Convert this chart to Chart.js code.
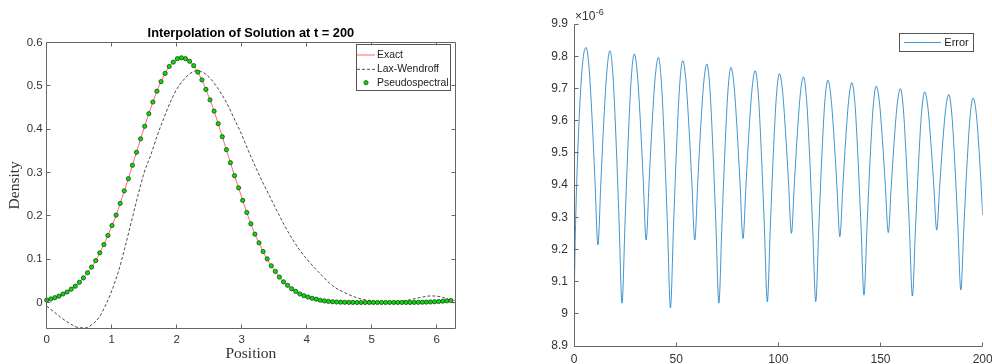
<!DOCTYPE html>
<html lang="en">
<head>
  <meta charset="UTF-8">
  <title>Interpolation of Solution at t = 200</title>
  <script src="https://cdn.jsdelivr.net/npm/chart.js"></script>
  <style>
    body { margin: 0; background: #fff; }
    #wrap { position: relative; width: 992px; height: 364px; overflow: hidden; background: #fff; }
    canvas { position: absolute; top: 0; }
    #density-chart { left: 0; }
    #error-chart { left: 510px; }
  </style>
</head>
<body>
  <div id="wrap">
    <canvas id="density-chart" width="510" height="364"></canvas>
    <canvas id="error-chart" width="482" height="364"></canvas>
  </div>

  <script>
    // ---- left panel: density at t = 200 ----
    // pseudospectral nodes (100 points on [0, 2pi))
    const nodeX = [
      0, 0.063, 0.126, 0.188, 0.251, 0.314, 0.377, 0.440, 0.503, 0.565,
      0.628, 0.691, 0.754, 0.817, 0.880, 0.942, 1.005, 1.068, 1.131, 1.194,
      1.257, 1.319, 1.382, 1.445, 1.508, 1.571, 1.634, 1.696, 1.759, 1.822,
      1.885, 1.948, 2.011, 2.073, 2.136, 2.199, 2.262, 2.325, 2.388, 2.450,
      2.513, 2.576, 2.639, 2.702, 2.765, 2.827, 2.890, 2.953, 3.016, 3.079,
      3.142, 3.204, 3.267, 3.330, 3.393, 3.456, 3.519, 3.581, 3.644, 3.707,
      3.770, 3.833, 3.896, 3.958, 4.021, 4.084, 4.147, 4.210, 4.273, 4.335,
      4.398, 4.461, 4.524, 4.587, 4.650, 4.712, 4.775, 4.838, 4.901, 4.964,
      5.027, 5.089, 5.152, 5.215, 5.278, 5.341, 5.404, 5.466, 5.529, 5.592,
      5.655, 5.718, 5.781, 5.843, 5.906, 5.969, 6.032, 6.095, 6.158, 6.220
    ];
    // density read at the nodes (exact and pseudospectral overlap in the picture)
    const density = [
      0.006, 0.0085, 0.0115, 0.015, 0.020, 0.0246, 0.031, 0.038, 0.047, 0.057,
      0.069, 0.082, 0.097, 0.115, 0.134, 0.155, 0.178, 0.202, 0.229, 0.258,
      0.286, 0.317, 0.347, 0.378, 0.407, 0.436, 0.463, 0.488, 0.510, 0.529,
      0.545, 0.555, 0.563, 0.565, 0.563, 0.557, 0.547, 0.532, 0.514, 0.492,
      0.468, 0.442, 0.413, 0.383, 0.353, 0.323, 0.293, 0.265, 0.236, 0.208,
      0.182, 0.158, 0.138, 0.118, 0.101, 0.085, 0.072, 0.059, 0.048, 0.040,
      0.032, 0.026, 0.020, 0.016, 0.013, 0.010, 0.008, 0.0055, 0.004, 0.003,
      0.002, 0.0015, 0.001, 0.0008, 0.0006, 0.0005, 0.0004, 0.0004, 0.0004, 0.0004,
      0.0004, 0.0004, 0.0004, 0.0004, 0.0004, 0.0004, 0.0004, 0.0004, 0.0004, 0.0004,
      0.0005, 0.0007, 0.0009, 0.0012, 0.0016, 0.002, 0.0026, 0.0033, 0.0041, 0.005
    ];
    const exactX = nodeX.concat([6.283]);
    const exactY = density.concat([0.006]);

    // Lax-Wendroff solution
    const lwX = [
      0, 0.1, 0.2, 0.3, 0.4, 0.5, 0.6, 0.7, 0.8, 0.9,
      1.0, 1.1, 1.2, 1.3, 1.4, 1.5, 1.6, 1.7, 1.8, 1.9,
      2.0, 2.1, 2.2, 2.3, 2.4, 2.5, 2.6, 2.7, 2.8, 2.9,
      3.0, 3.1, 3.2, 3.3, 3.4, 3.5, 3.6, 3.7, 3.8, 3.9,
      4.0, 4.2, 4.4, 4.6, 4.8, 5.0, 5.2, 5.4, 5.6, 5.8,
      5.9, 6.0, 6.1, 6.2, 6.283
    ];
    const lwY = [
      -0.008, -0.020, -0.032, -0.043, -0.052, -0.058, -0.058, -0.050, -0.035, -0.008,
      0.027, 0.070, 0.125, 0.185, 0.245, 0.300, 0.340, 0.385, 0.425, 0.462,
      0.492, 0.513, 0.528, 0.535, 0.532, 0.520, 0.502, 0.479, 0.452, 0.420,
      0.388, 0.352, 0.318, 0.285, 0.255, 0.225, 0.195, 0.167, 0.142, 0.120,
      0.101, 0.068, 0.039, 0.022, 0.010, 0.004, 0.001, 0.002, 0.007, 0.0135,
      0.0155, 0.015, 0.012, 0.006, -0.003
    ];

    const posTicks = [0, 1, 2, 3, 4, 5, 6];
    const densityTicks = [0, 0.1, 0.2, 0.3, 0.4, 0.5, 0.6];

    // ---- right panel: error over time (values in units of 1e-6) ----
    const errT = [
      0, 0.5, 1.2, 2.2, 3.4, 4.6, 5.9,
      7.35, 8.8, 10.25, 11.7,
      13.18, 14.65, 16.13, 17.6,
      19.08, 20.55, 22.03, 23.5,
      25.0, 26.5, 28.0, 29.5,
      30.95, 32.4, 33.85, 35.3,
      36.8, 38.3, 39.8, 41.3,
      42.78, 44.25, 45.73, 47.2,
      48.7, 50.2, 51.7, 53.2,
      54.68, 56.15, 57.63, 59.1,
      60.58, 62.05, 63.53, 65.0,
      66.48, 67.95, 69.43, 70.9,
      72.38, 73.85, 75.33, 76.8,
      78.28, 79.75, 81.23, 82.7,
      84.2, 85.7, 87.2, 88.7,
      90.18, 91.65, 93.13, 94.6,
      96.08, 97.55, 99.03, 100.5,
      101.98, 103.45, 104.93, 106.4,
      107.88, 109.35, 110.83, 112.3,
      113.8, 115.3, 116.8, 118.3,
      119.78, 121.25, 122.73, 124.2,
      125.68, 127.15, 128.63, 130.1,
      131.58, 133.05, 134.53, 136.0,
      137.48, 138.95, 140.43, 141.9,
      143.4, 144.9, 146.4, 147.9,
      149.38, 150.85, 152.33, 153.8,
      155.28, 156.75, 158.23, 159.7,
      161.18, 162.65, 164.13, 165.6,
      167.1, 168.6, 170.1, 171.6,
      173.08, 174.55, 176.03, 177.5,
      178.98, 180.45, 181.93, 183.4,
      184.88, 186.35, 187.83, 189.3,
      190.8, 192.3, 193.8, 195.3,
      196.8, 198.3, 200
    ];
    const errV = [
      9.00, 9.20, 9.38, 9.56, 9.71, 9.80, 9.827,
      9.766, 9.612, 9.416, 9.214,
      9.413, 9.606, 9.757, 9.817,
      9.739, 9.543, 9.292, 9.033,
      9.288, 9.536, 9.730, 9.807,
      9.749, 9.605, 9.420, 9.229,
      9.416, 9.598, 9.739, 9.796,
      9.718, 9.524, 9.275, 9.019,
      9.272, 9.518, 9.709, 9.786,
      9.730, 9.591, 9.413, 9.229,
      9.410, 9.585, 9.721, 9.776,
      9.702, 9.516, 9.278, 9.033,
      9.275, 9.509, 9.692, 9.765,
      9.712, 9.579, 9.409, 9.234,
      9.406, 9.573, 9.703, 9.755,
      9.683, 9.504, 9.275, 9.038,
      9.272, 9.498, 9.675, 9.746,
      9.696, 9.572, 9.414, 9.250,
      9.410, 9.566, 9.687, 9.736,
      9.666, 9.492, 9.268, 9.038,
      9.265, 9.485, 9.657, 9.726,
      9.677, 9.556, 9.400, 9.240,
      9.398, 9.551, 9.670, 9.718,
      9.652, 9.487, 9.276, 9.058,
      9.272, 9.480, 9.642, 9.707,
      9.662, 9.548, 9.402, 9.252,
      9.400, 9.543, 9.654, 9.699,
      9.635, 9.474, 9.268, 9.055,
      9.264, 9.467, 9.626, 9.689,
      9.646, 9.539, 9.402, 9.260,
      9.399, 9.534, 9.639, 9.681,
      9.620, 9.469, 9.274, 9.074,
      9.271, 9.461, 9.610, 9.670,
      9.625, 9.50, 9.307
    ];
    const timeTicks = [0, 50, 100, 150, 200];
    const errTicks = [8.9, 9.0, 9.1, 9.2, 9.3, 9.4, 9.5, 9.6, 9.7, 9.8, 9.9];

    const pts = (xs, ys) => xs.map((x, i) => ({ x: x, y: ys[i] }));
    const fmt = v => String(+v.toFixed(2));

    Chart.defaults.font.family = "'Liberation Sans', Arial, sans-serif";
    Chart.defaults.color = '#333';

    // matlab style axes: box + inward ticks
    const frame = {
      id: 'frame',
      afterDatasetsDraw(chart, args, o) {
        const { ctx, chartArea: a, scales } = chart;
        const L = Math.floor(a.left) + 0.5, R = Math.floor(a.right) + 0.5;
        const T = Math.floor(a.top) + 0.5, B = Math.floor(a.bottom) + 0.5;
        ctx.save();
        ctx.strokeStyle = o.color;
        ctx.lineWidth = 1;
        ctx.beginPath();
        if (o.box) {
          ctx.moveTo(R, B); ctx.lineTo(R, T); ctx.lineTo(L, T);
        }
        ctx.moveTo(L, T); ctx.lineTo(L, B); ctx.lineTo(R, B);
        scales.x.ticks.forEach(t => {
          const px = Math.floor(scales.x.getPixelForValue(t.value)) + 0.5;
          ctx.moveTo(px, B); ctx.lineTo(px, B - o.tick);
          if (o.box) { ctx.moveTo(px, T); ctx.lineTo(px, T + o.tick); }
        });
        scales.y.ticks.forEach(t => {
          const py = Math.floor(scales.y.getPixelForValue(t.value)) + 0.5;
          ctx.moveTo(L, py); ctx.lineTo(L + o.tick, py);
          if (o.box) { ctx.moveTo(R, py); ctx.lineTo(R - o.tick, py); }
        });
        ctx.stroke();
        ctx.restore();
      }
    };

    // legend in a bordered box inside the axes
    const boxLegend = {
      id: 'boxLegend',
      afterDraw(chart, args, o) {
        const { ctx } = chart;
        ctx.save();
        ctx.fillStyle = '#fff';
        ctx.fillRect(o.x, o.y, o.w, o.h);
        ctx.strokeStyle = o.border;
        ctx.lineWidth = 1;
        ctx.strokeRect(o.x + 0.5, o.y + 0.5, o.w, o.h);
        ctx.font = o.font;
        ctx.textBaseline = 'middle';
        chart.data.datasets.forEach((ds, i) => {
          const cy = o.rows[i];
          if (ds.showLine === false) {
            ctx.beginPath();
            ctx.arc((o.x1 + o.x2) / 2, cy, ds.pointRadius, 0, Math.PI * 2);
            ctx.fillStyle = ds.pointBackgroundColor;
            ctx.fill();
            ctx.strokeStyle = ds.pointBorderColor;
            ctx.lineWidth = ds.pointBorderWidth;
            ctx.stroke();
          } else {
            ctx.beginPath();
            ctx.setLineDash(ds.borderDash || []);
            ctx.moveTo(o.x1, cy);
            ctx.lineTo(o.x2, cy);
            ctx.strokeStyle = ds.borderColor;
            ctx.lineWidth = ds.borderWidth;
            ctx.stroke();
            ctx.setLineDash([]);
          }
          ctx.fillStyle = o.color;
          ctx.fillText(ds.label, o.textX, cy);
        });
        ctx.restore();
      }
    };

    // x10^-6 multiplier above the y axis
    const expLabel = {
      id: 'expLabel',
      afterDraw(chart, args, o) {
        if (!o.text) return;
        const { ctx } = chart;
        ctx.save();
        ctx.fillStyle = '#333';
        ctx.textBaseline = 'alphabetic';
        ctx.font = "12px 'Liberation Sans', Arial, sans-serif";
        ctx.fillText(o.text, o.x, o.y);
        const w = ctx.measureText(o.text).width;
        ctx.font = "9px 'Liberation Sans', Arial, sans-serif";
        ctx.fillText(o.sup, o.x + w + 0.5, o.y - 5);
        ctx.restore();
      }
    };

    // Density chart
    new Chart(document.getElementById('density-chart'), {
      type: 'scatter',
      data: {
        datasets: [{
          label: 'Exact',
          data: pts(exactX, exactY),
          showLine: true,
          borderColor: 'rgba(255, 40, 40, 0.7)',
          borderWidth: 1,
          pointRadius: 0,
          tension: 0.3,
          order: 3
        }, {
          label: 'Lax-Wendroff',
          data: pts(lwX, lwY),
          showLine: true,
          borderColor: 'rgba(0, 0, 0, 0.7)',
          borderWidth: 1,
          borderDash: [3, 2],
          pointRadius: 0,
          cubicInterpolationMode: 'monotone',
          order: 2
        }, {
          label: 'Pseudospectral',
          data: pts(nodeX, density),
          showLine: false,
          pointRadius: 2.1,
          pointBackgroundColor: '#00e400',
          pointBorderColor: '#1d3d1d',
          pointBorderWidth: 0.8,
          clip: false,
          order: 1
        }]
      },
      options: {
        responsive: false,
        animation: false,
        events: [],
        layout: { padding: { left: 0, top: 0, right: 55, bottom: 0 } },
        plugins: {
          legend: { display: false },
          tooltip: { enabled: false },
          title: {
            display: true,
            text: 'Interpolation of Solution at t = 200',
            fullSize: false,
            color: '#000',
            font: { size: 12.8, weight: 'bold' },
            padding: { top: 26, bottom: 1.3 }
          },
          frame: { color: '#666', tick: 4, box: true },
          boxLegend: {
            x: 356, y: 44, w: 94, h: 46,
            rows: [55, 69.3, 82.7],
            x1: 357, x2: 375, textX: 377,
            font: "10.4px 'Liberation Sans', Arial, sans-serif",
            color: '#222', border: '#555'
          }
        },
        scales: {
          x: {
            type: 'linear',
            min: 0,
            max: 6.2832,
            afterBuildTicks: s => { s.ticks = posTicks.map(v => ({ value: v })); },
            afterFit: s => { s.height = 36; s.paddingLeft = 0; s.paddingRight = 0; },
            grid: { display: false, drawTicks: false },
            border: { display: false },
            ticks: { padding: 5, font: { size: 11.5 }, color: '#333', callback: fmt },
            title: {
              display: true,
              text: 'Position',
              color: '#333',
              font: { family: "'Liberation Serif', 'Times New Roman', serif", size: 15.5 },
              padding: { top: 0, bottom: 0.5 }
            }
          },
          y: {
            type: 'linear',
            min: -0.0585,
            max: 0.6,
            afterBuildTicks: s => { s.ticks = densityTicks.map(v => ({ value: v })); },
            afterFit: s => { s.width = 46.7; s.paddingTop = 0; s.paddingBottom = 0; },
            grid: { display: false, drawTicks: false },
            border: { display: false },
            ticks: { padding: 4, font: { size: 11.5 }, color: '#333', callback: fmt },
            title: {
              display: true,
              text: 'Density',
              color: '#333',
              font: { family: "'Liberation Serif', 'Times New Roman', serif", size: 15.5 },
              padding: { top: 6, bottom: 0 }
            }
          }
        }
      },
      plugins: [frame, boxLegend]
    });

    // Error chart
    new Chart(document.getElementById('error-chart'), {
      type: 'scatter',
      data: {
        datasets: [{
          label: 'Error',
          data: pts(errT, errV),
          showLine: true,
          borderColor: 'rgba(0, 114, 189, 0.75)',
          borderWidth: 1,
          pointRadius: 0,
          cubicInterpolationMode: 'monotone'
        }]
      },
      options: {
        responsive: false,
        animation: false,
        events: [],
        layout: { padding: { left: 0, top: 24, right: 9.3, bottom: 0 } },
        plugins: {
          legend: { display: false },
          tooltip: { enabled: false },
          frame: { color: '#666', tick: 4, box: false },
          boxLegend: {
            x: 389, y: 33, w: 74, h: 18,
            rows: [42.5],
            x1: 394, x2: 431, textX: 434.3,
            font: "11px 'Liberation Sans', Arial, sans-serif",
            color: '#222', border: '#555'
          },
          expLabel: { text: '\u00d710', sup: '-6', x: 65, y: 19.5 }
        },
        scales: {
          x: {
            type: 'linear',
            min: 0,
            max: 200,
            afterBuildTicks: s => { s.ticks = timeTicks.map(v => ({ value: v })); },
            afterFit: s => { s.height = 18; s.paddingLeft = 0; s.paddingRight = 0; },
            grid: { display: false, drawTicks: false },
            border: { display: false },
            ticks: { padding: 6, font: { size: 12 }, color: '#333', callback: fmt }
          },
          y: {
            type: 'linear',
            min: 8.9,
            max: 9.9,
            afterBuildTicks: s => { s.ticks = errTicks.map(v => ({ value: v })); },
            afterFit: s => { s.width = 64; s.paddingTop = 0; s.paddingBottom = 0; },
            grid: { display: false, drawTicks: false },
            border: { display: false },
            ticks: { padding: 6, font: { size: 12 }, color: '#333', callback: fmt }
          }
        }
      },
      plugins: [frame, boxLegend, expLabel]
    });
  </script>
</body>
</html>
